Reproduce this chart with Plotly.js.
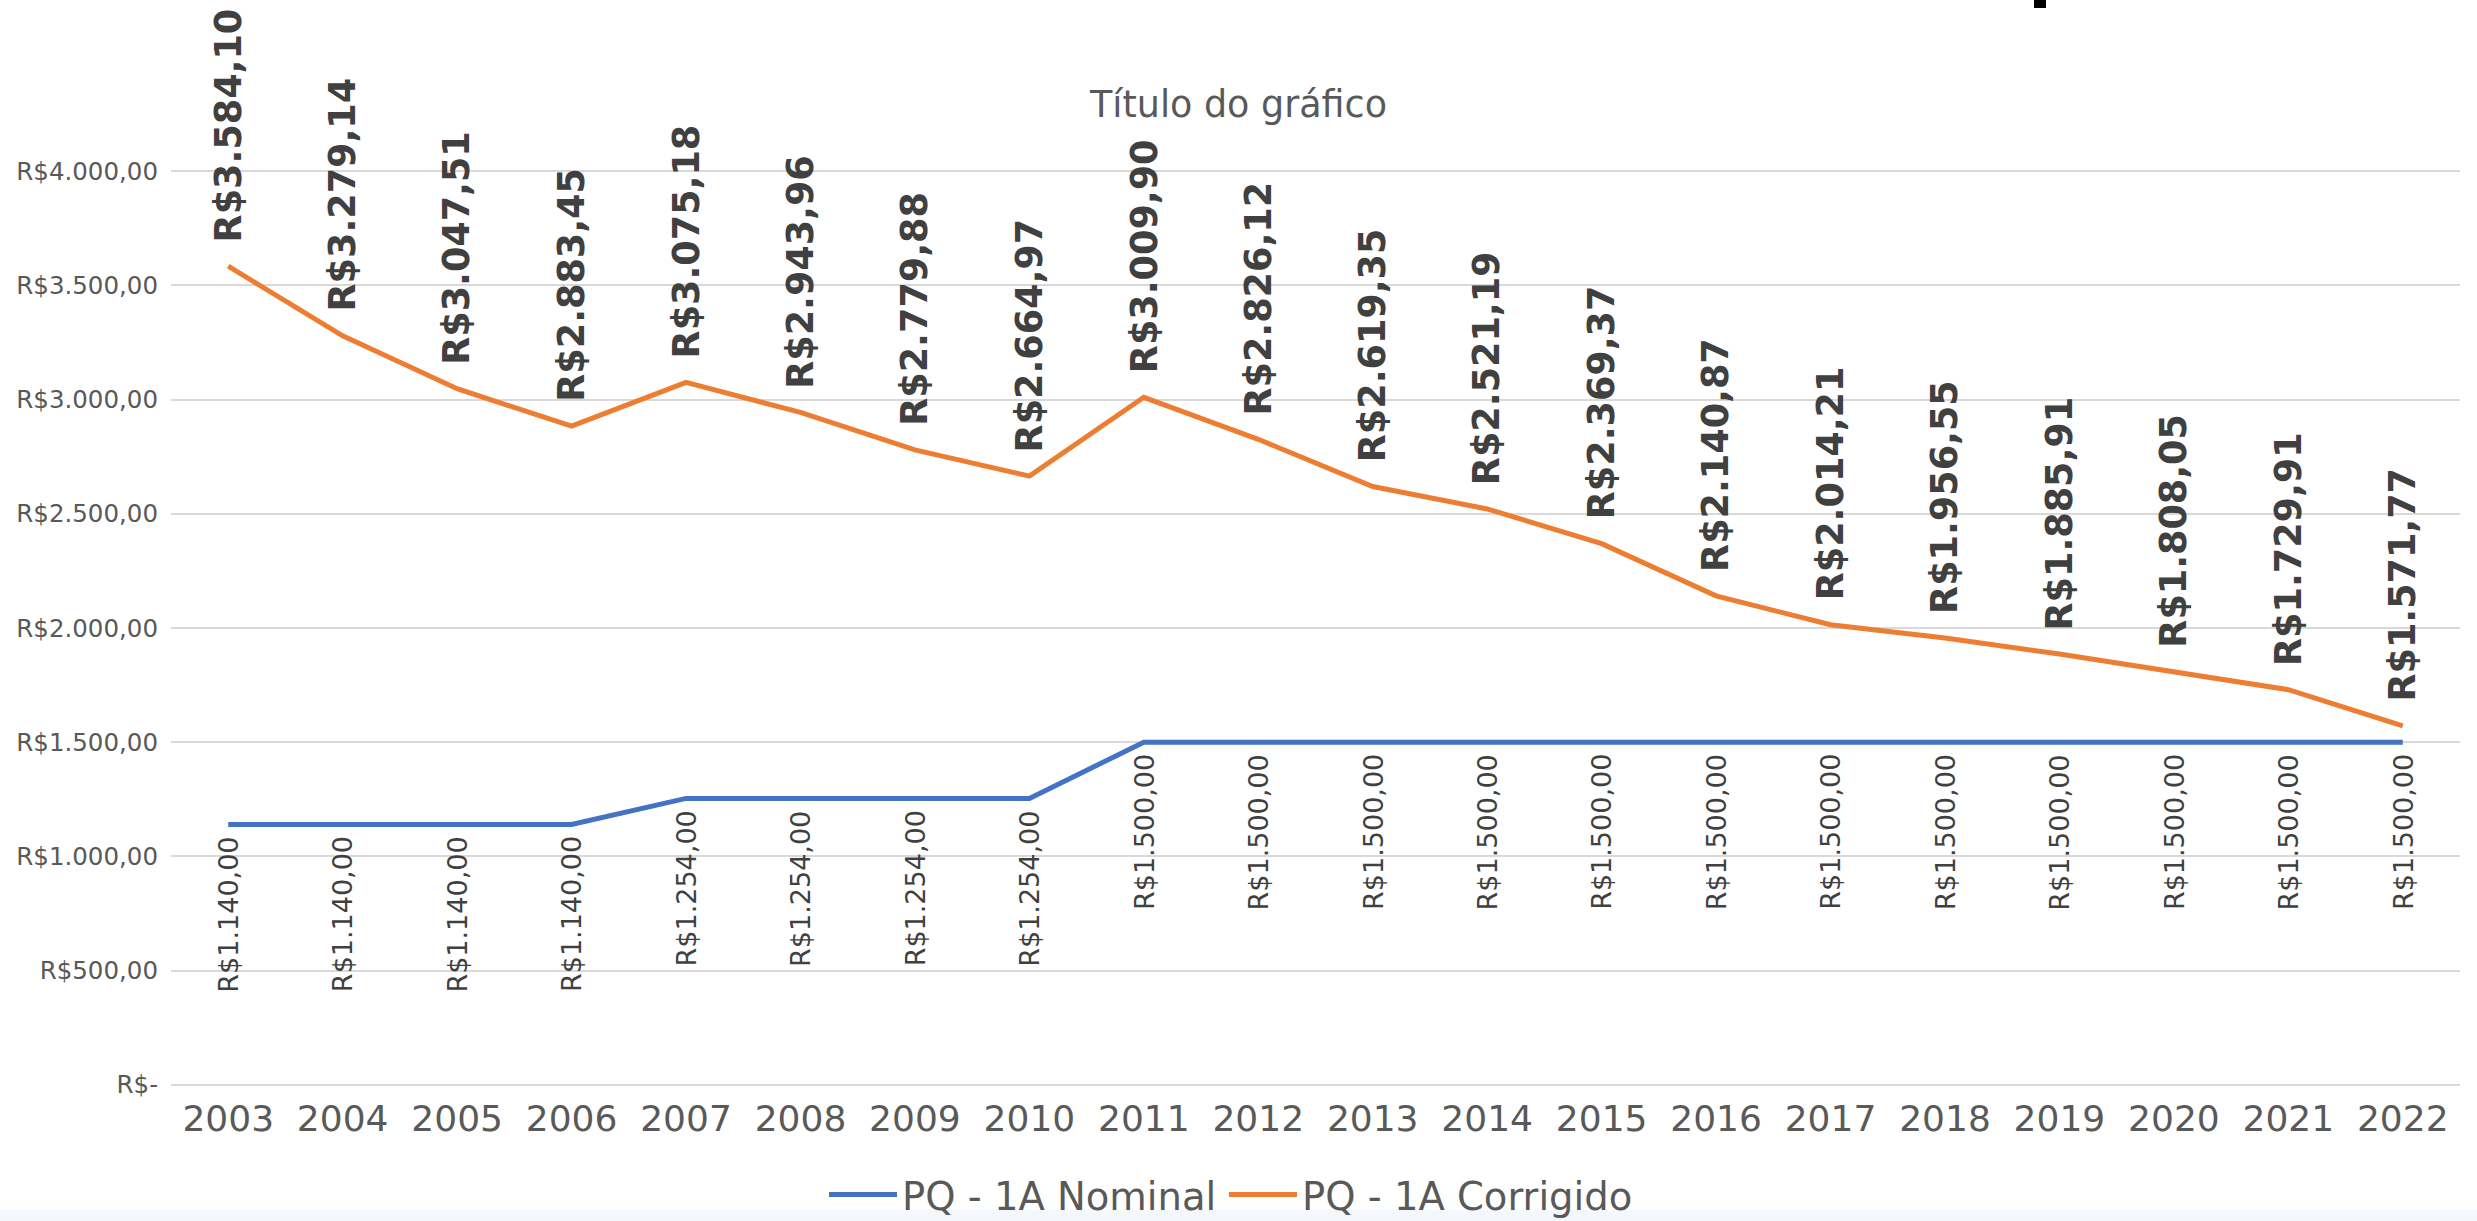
<!DOCTYPE html>
<html>
<head>
<meta charset="utf-8">
<script src="https://cdn.plot.ly/plotly-3.0.1.min.js"></script>
<style>
html,body{margin:0;padding:0;background:#fff;}
#chart{width:2477px;height:1221px;}
</style>
</head>
<body>
<div id="chart"></div>
<script>
const years = ['2003','2004','2005','2006','2007','2008','2009','2010','2011','2012','2013','2014','2015','2016','2017','2018','2019','2020','2021','2022'];
const nominal = [1140,1140,1140,1140,1254,1254,1254,1254,1500,1500,1500,1500,1500,1500,1500,1500,1500,1500,1500,1500];
const corrigido = [3584.10,3279.14,3047.51,2883.45,3075.18,2943.96,2779.88,2664.97,3009.90,2826.12,2619.35,2521.19,2369.37,2140.87,2014.21,1956.55,1885.91,1808.05,1729.91,1571.77];
const yTickVals = [0,500,1000,1500,2000,2500,3000,3500,4000];
const yTickText = ['R$-','R$500,00','R$1.000,00','R$1.500,00','R$2.000,00','R$2.500,00','R$3.000,00','R$3.500,00','R$4.000,00'];
const seriesNames = ['PQ - 1A Nominal','PQ - 1A Corrigido'];
const chartTitle = 'Título do gráfico';

function brl(v){
  const parts = v.toFixed(2).split('.');
  const intPart = parts[0].replace(/\B(?=(\d{3})+(?!\d))/g,'.');
  return 'R$' + intPart + ',' + parts[1];
}

const W = 2477, H = 1221;
const M = {l:171, r:17, t:170, b:135};
const PW = W - M.l - M.r, PH = H - M.t - M.b;
const px2paperX = px => (px - M.l) / PW;
const px2paperY = py => 1 - (py - M.t) / PH;

const FONT = 'DejaVu Sans, sans-serif';
const traces = [
  {x: years, y: nominal, type:'scatter', mode:'lines', name: seriesNames[0], legend:'legend',
   line:{color:'#4472C4', width:5}},
  {x: years, y: corrigido, type:'scatter', mode:'lines', name: seriesNames[1], legend:'legend2',
   line:{color:'#ED7D31', width:5}}
];

const annotations = [];
years.forEach((yr,i)=>{
  annotations.push({x: i, y: nominal[i], xref:'x', yref:'y', text: brl(nominal[i]),
    showarrow:false, textangle:-90, xanchor:'center', yanchor:'top', yshift:-10,
    font:{family:FONT, size:27, color:'#404040'}});
  annotations.push({x: i, y: corrigido[i], xref:'x', yref:'y', text: '<b>'+brl(corrigido[i])+'</b>',
    showarrow:false, textangle:-90, xanchor:'center', yanchor:'bottom', yshift:22,
    font:{family:FONT, size:36.5, color:'#404040'}});
});

const shapes = [
  {type:'rect', xref:'paper', yref:'paper', layer:'below',
   x0:px2paperX(0), x1:px2paperX(W), y0:px2paperY(1210), y1:px2paperY(H),
   fillcolor:'#F4F8FC', line:{width:0}},
  {type:'rect', xref:'paper', yref:'paper', layer:'above',
   x0:px2paperX(2034), x1:px2paperX(2046), y0:px2paperY(8), y1:px2paperY(0),
   fillcolor:'#000000', line:{width:0}}
];

const legendBase = {orientation:'h', xref:'container', xanchor:'left', yref:'container', y:1-1195/1221, yanchor:'middle',
  font:{family:FONT, size:38.5, color:'#595959'}, itemwidth:68, tracegroupgap:0, bgcolor:'rgba(0,0,0,0)'};

const layout = {
  width:W, height:H,
  paper_bgcolor:'#ffffff', plot_bgcolor:'#ffffff',
  margin:M,
  font:{family:FONT, color:'#595959'},
  title:{text: chartTitle, font:{family:FONT, size:36.5, color:'#595959'},
    xref:'container', x:0.5, xanchor:'center', yref:'container', y:1-104/1221, yanchor:'middle'},
  xaxis:{type:'category', range:[-0.5, 19.5], showgrid:false, zeroline:false, showline:false,
    ticks:'', tickfont:{family:FONT, size:36, color:'#595959'}, ticklabelstandoff:8, fixedrange:true},
  yaxis:{range:[-5,4005], tickvals:yTickVals, ticktext:yTickText, showgrid:true, gridcolor:'#D9D9D9', gridwidth:2,
    zeroline:false, showline:false, ticks:'', tickfont:{family:FONT, size:24.5, color:'#595959'},
    ticklabelstandoff:12, fixedrange:true},
  showlegend:true,
  legend: Object.assign({}, legendBase, {x:824/2477}),
  legend2: Object.assign({}, legendBase, {x:1224/2477}),
  annotations: annotations,
  shapes: shapes,
  hovermode:false
};

Plotly.newPlot('chart', traces, layout, {staticPlot:true, displayModeBar:false});
</script>
</body>
</html>
